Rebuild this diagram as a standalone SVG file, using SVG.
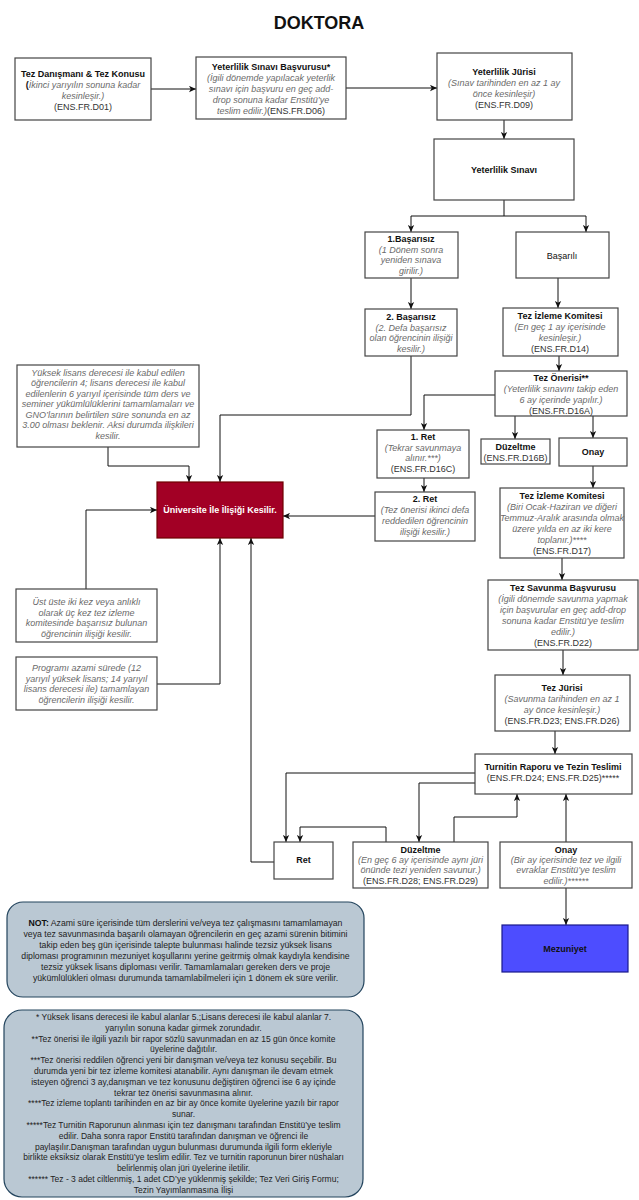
<svg xmlns="http://www.w3.org/2000/svg" width="639" height="1200" viewBox="0 0 639 1200">
<defs>
<marker id="arr" viewBox="0 0 10 10" refX="10" refY="5" markerWidth="7" markerHeight="7" orient="auto" markerUnits="userSpaceOnUse">
<path d="M0,0.5 L10,5 L0,9.5 L2.5,5 z" fill="#111"/>
</marker>
</defs>
<style>
text{font-family:"Liberation Sans",Arial,Helvetica,sans-serif;font-size:9px;text-anchor:middle;fill:#333}
.b{font-weight:bold;fill:#111}
.i{font-style:italic;fill:#6a6a6a}
.box{fill:#fff;stroke:#444;stroke-width:1.2}
.edges path{fill:none;stroke:#111;stroke-width:1;marker-end:url(#arr)}
.note{fill:#bac8d3;stroke:#23445d;stroke-width:1.2}
.nt{fill:#222}
</style>
<rect width="639" height="1200" fill="#fff"/>
<text x="319" y="29" class="b" style="font-size:18px">DOKTORA</text>

<g class="edges" id="connectors">
<path d="M151,89 H196"/>
<path d="M346,88 H437"/>
<path d="M504,120 V139"/>
<path d="M504,200 V216 H411 V232"/>
<path d="M504,216 H586 V232"/>
<path d="M411,278 V309"/>
<path d="M411,356 V415 H220 V482"/>
<path d="M558,278 V308"/>
<path d="M559,356 V371"/>
<path d="M495,395 H424 V430"/>
<path d="M515,416 V439"/>
<path d="M593,416 V438"/>
<path d="M424,478 V492"/>
<path d="M375,516 H283"/>
<path d="M593,466 V488"/>
<path d="M562,558 V580"/>
<path d="M563,650 V675"/>
<path d="M555,731 V754"/>
<path d="M475,773 H286 V842"/>
<path d="M475,783 H419 V842"/>
<path d="M386,842 V827 H300 V842"/>
<path d="M454,842 V817 H517 V794"/>
<path d="M566,842 V794"/>
<path d="M566,888 V925"/>
<path d="M274,862 H251 V538"/>
<path d="M108,447 V466 H189 V482"/>
<path d="M86,589 V510 H157"/>
<path d="M157,684 H220 V538"/>
</g>

<g id="n-danisman">
<rect class="box" x="15" y="58" width="136" height="62"/>
<text x="83" y="77" class="b">Tez Danışmanı &amp; Tez Konusu</text>
<text x="83" y="88"><tspan class="b">(</tspan><tspan class="i">İkinci yarıyılın sonuna kadar</tspan></text>
<text x="83" y="99" class="i">kesinleşir.)</text>
<text x="83" y="110">(ENS.FR.D01)</text>
</g>

<g id="n-basvuru">
<rect class="box" x="196" y="57" width="150" height="62"/>
<text x="271" y="70" class="b">Yeterlilik Sınavı Başvurusu*</text>
<text x="271" y="81" class="i">(İgili dönemde yapılacak yeterlik</text>
<text x="271" y="92" class="i">sınavı için başvuru en geç add-</text>
<text x="271" y="103" class="i">drop sonuna kadar Enstitü’ye</text>
<text x="271" y="114"><tspan class="i">teslim edilir.)</tspan><tspan>(ENS.FR.D06)</tspan></text>
</g>

<g id="n-juri">
<rect class="box" x="437" y="53" width="135" height="67"/>
<text x="504" y="75" class="b">Yeterlilik Jürisi</text>
<text x="504" y="86" class="i">(Sınav tarihinden en az 1 ay</text>
<text x="504" y="97" class="i">önce kesinleşir)</text>
<text x="504" y="108">(ENS.FR.D09)</text>
</g>

<g id="n-sinav">
<rect class="box" x="434" y="139" width="140" height="61"/>
<text x="504" y="173" class="b">Yeterlilik Sınavı</text>
</g>

<g id="n-basarisiz1">
<rect class="box" x="365" y="232" width="93" height="46"/>
<text x="411" y="242" class="b">1.Başarısız</text>
<text x="411" y="252.5" class="i">(1 Dönem sonra</text>
<text x="411" y="263" class="i">yeniden sınava</text>
<text x="411" y="273.5" class="i">girilir.)</text>
</g>

<g id="n-basarili">
<rect class="box" x="516" y="232" width="93" height="46"/>
<text x="562" y="259" style="fill:#111">Başarılı</text>
</g>

<g id="n-basarisiz2">
<rect class="box" x="365" y="309" width="92" height="47"/>
<text x="411" y="320" class="b">2. Başarısız</text>
<text x="411" y="330.5" class="i">(2. Defa başarısız</text>
<text x="411" y="341" class="i">olan öğrencinin ilişiği</text>
<text x="411" y="351.5" class="i">kesilir.)</text>
</g>

<g id="n-tik1">
<rect class="box" x="503" y="308" width="115" height="48"/>
<text x="560" y="319" class="b">Tez İzleme Komitesi</text>
<text x="560" y="330" class="i">(En geç 1 ay içerisinde</text>
<text x="560" y="341" class="i">kesinleşir.)</text>
<text x="560" y="352">(ENS.FR.D14)</text>
</g>

<g id="n-oneri">
<rect class="box" x="495" y="371" width="132" height="45"/>
<text x="561" y="381" class="b">Tez Önerisi**</text>
<text x="561" y="392" class="i">(Yeterlilik sınavını takip eden</text>
<text x="561" y="403" class="i">6 ay içerinde yapılır.)</text>
<text x="561" y="413.5">(ENS.FR.D16A)</text>
</g>

<g id="n-ret1">
<rect class="box" x="377" y="430" width="92" height="48"/>
<text x="423" y="440" class="b">1. Ret</text>
<text x="423" y="450.5" class="i">(Tekrar savunmaya</text>
<text x="423" y="461" class="i">alınır.***)</text>
<text x="423" y="472">(ENS.FR.D16C)</text>
</g>

<g id="n-duzeltme1">
<rect class="box" x="481" y="439" width="69" height="25"/>
<text x="515.5" y="450" class="b">Düzeltme</text>
<text x="515.5" y="461">(ENS.FR.D16B)</text>
</g>

<g id="n-onay1">
<rect class="box" x="559" y="438" width="68" height="28"/>
<text x="593" y="455" class="b">Onay</text>
</g>

<g id="n-ret2">
<rect class="box" x="375" y="492" width="100" height="49"/>
<text x="425" y="502" class="b">2. Ret</text>
<text x="425" y="513" class="i">(Tez önerisi ikinci defa</text>
<text x="425" y="524" class="i">reddedilen öğrencinin</text>
<text x="425" y="535" class="i">ilişiği kesilir.)</text>
</g>

<g id="n-tik2">
<rect class="box" x="500" y="488" width="124" height="70"/>
<text x="562" y="499" class="b">Tez İzleme Komitesi</text>
<text x="562" y="510" class="i">(Biri Ocak-Haziran ve diğeri</text>
<text x="562" y="521" class="i">Temmuz-Aralık arasında olmak</text>
<text x="562" y="532" class="i">üzere yılda en az iki kere</text>
<text x="562" y="543" class="i">toplanır.)****</text>
<text x="562" y="554">(ENS.FR.D17)</text>
</g>

<g id="n-savunma">
<rect class="box" x="488" y="580" width="150" height="70"/>
<text x="563" y="591" class="b">Tez Savunma Başvurusu</text>
<text x="563" y="602" class="i">(İgili dönemde savunma yapmak</text>
<text x="563" y="613" class="i">için başvurular en geç add-drop</text>
<text x="563" y="624" class="i">sonuna kadar Enstitü’ye teslim</text>
<text x="563" y="635" class="i">edilir.)</text>
<text x="563" y="646">(ENS.FR.D22)</text>
</g>

<g id="n-tezjuri">
<rect class="box" x="495" y="675" width="135" height="56"/>
<text x="562" y="691" class="b">Tez Jürisi</text>
<text x="562" y="702" class="i">(Savunma tarihinden en az 1</text>
<text x="562" y="713" class="i">ay önce kesinleşir.)</text>
<text x="562" y="724">(ENS.FR.D23; ENS.FR.D26)</text>
</g>

<g id="n-turnitin">
<rect class="box" x="475" y="754" width="157" height="40"/>
<text x="553" y="770" class="b">Turnitin Raporu ve Tezin Teslimi</text>
<text x="553" y="781">(ENS.FR.D24; ENS.FR.D25)*****</text>
</g>

<g id="n-ret3">
<rect class="box" x="274" y="842" width="59" height="37"/>
<text x="303.5" y="863" class="b">Ret</text>
</g>

<g id="n-duzeltme2">
<rect class="box" x="353" y="842" width="135" height="46"/>
<text x="420.5" y="852.5" class="b">Düzeltme</text>
<text x="420.5" y="863" class="i">(En geç 6 ay içerisinde aynı jüri</text>
<text x="420.5" y="873" class="i">önünde tezi yeniden savunur.)</text>
<text x="420.5" y="883.5">(ENS.FR.D28; ENS.FR.D29)</text>
</g>

<g id="n-onay2">
<rect class="box" x="500" y="842" width="132" height="46"/>
<text x="566" y="852.5" class="b">Onay</text>
<text x="566" y="863" class="i">(Bir ay içerisinde tez ve ilgili</text>
<text x="566" y="873" class="i">evraklar Enstitü’ye teslim</text>
<text x="566" y="883.5" class="i">edilir.)******</text>
</g>

<g id="n-mezuniyet">
<rect x="502" y="925" width="126" height="47" fill="#4d4dff" stroke="#1a1a8c" stroke-width="1.2"/>
<text x="565" y="952" class="b">Mezuniyet</text>
</g>

<g id="n-kesilir">
<rect x="157" y="482" width="126" height="56" fill="#a20025" stroke="#6f0000" stroke-width="1.2"/>
<text x="220" y="513" class="b" style="fill:#fff">Üniversite İle İlişiği Kesilir.</text>
</g>

<g id="n-yuksek">
<rect class="box" x="17" y="365" width="182" height="82"/>
<text x="108" y="375.5" class="i">Yüksek lisans derecesi ile kabul edilen</text>
<text x="108" y="386" class="i">öğrencilerin 4; lisans derecesi ile kabul</text>
<text x="108" y="396.5" class="i">edilenlerin 6 yarıyıl içerisinde tüm ders ve</text>
<text x="108" y="407" class="i">seminer yükümlülüklerini tamamlamaları ve</text>
<text x="108" y="417.5" class="i">GNO’larının belirtilen süre sonunda en az</text>
<text x="108" y="428" class="i">3.00 olması beklenir. Aksi durumda ilişkileri</text>
<text x="108" y="438.5" class="i">kesilir.</text>
</g>

<g id="n-ustuste">
<rect class="box" x="16" y="589" width="141" height="53"/>
<text x="86.5" y="605" class="i">Üst üste iki kez veya anlıklı</text>
<text x="86.5" y="615.5" class="i">olarak üç kez tez izleme</text>
<text x="86.5" y="626" class="i">komitesinde başarısız bulunan</text>
<text x="86.5" y="636.5" class="i">öğrencinin ilişiği kesilir.</text>
</g>

<g id="n-program">
<rect class="box" x="16" y="657" width="141" height="53"/>
<text x="86.5" y="671" class="i">Programı azami sürede (12</text>
<text x="86.5" y="681.5" class="i">yarıyıl yüksek lisans; 14 yarıyıl</text>
<text x="86.5" y="692" class="i">lisans derecesi ile) tamamlayan</text>
<text x="86.5" y="702.5" class="i">öğrencilerin ilişiği kesilir.</text>
</g>

<g id="n-not">
<rect class="note" x="7" y="902" width="357" height="95" rx="16"/>
<text x="185.5" y="926" class="nt" style="font-size:8.7px"><tspan class="b">NOT:</tspan> Azami süre içerisinde tüm derslerini ve/veya tez çalışmasını tamamlamayan</text>
<text x="185.5" y="937" class="nt" style="font-size:8.7px">veya tez savunmasında başarılı olamayan öğrencilerin en geç azami sürenin bitimini</text>
<text x="185.5" y="948" class="nt" style="font-size:8.7px">takip eden beş gün içerisinde talepte bulunması halinde tezsiz yüksek lisans</text>
<text x="185.5" y="959" class="nt" style="font-size:8.7px">diploması programının mezuniyet koşullarını yerine geitrmiş olmak kaydıyla kendisine</text>
<text x="185.5" y="970" class="nt" style="font-size:8.7px">tezsiz yüksek lisans diploması verilir. Tamamlamaları gereken ders ve proje</text>
<text x="185.5" y="981" class="nt" style="font-size:8.7px">yükümlülükleri olması durumunda tamamlabilmeleri için 1 dönem ek süre verilir.</text>
</g>

<g id="n-dipnot">
<rect class="note" x="4" y="1010" width="359" height="187" rx="18"/>
<text x="183.5" y="1020" class="nt" style="font-size:8.5px">* Yüksek lisans derecesi ile kabul alanlar 5.;Lisans derecesi ile kabul alanlar 7.</text>
<text x="183.5" y="1030.8" class="nt" style="font-size:8.5px">yarıyılın sonuna kadar girmek zorundadır.</text>
<text x="183.5" y="1041.6" class="nt" style="font-size:8.5px">**Tez önerisi ile ilgili yazılı bir rapor sözlü savunmadan en az 15 gün önce komite</text>
<text x="183.5" y="1052.4" class="nt" style="font-size:8.5px">üyelerine dağıtılır.</text>
<text x="183.5" y="1063.2" class="nt" style="font-size:8.5px">***Tez önerisi reddilen öğrenci yeni bir danışman ve/veya tez konusu seçebilir. Bu</text>
<text x="183.5" y="1074" class="nt" style="font-size:8.5px">durumda yeni bir tez izleme komitesi atanabilir. Aynı danışman ile devam etmek</text>
<text x="183.5" y="1084.8" class="nt" style="font-size:8.5px">isteyen öğrenci 3 ay,danışman ve tez konusunu değiştiren öğrenci ise 6 ay içinde</text>
<text x="183.5" y="1095.6" class="nt" style="font-size:8.5px">tekrar tez önerisi savunmasına alınır.</text>
<text x="183.5" y="1106.4" class="nt" style="font-size:8.5px">****Tez izleme toplantı tarihinden en az bir ay önce komite üyelerine yazılı bir rapor</text>
<text x="183.5" y="1117.2" class="nt" style="font-size:8.5px">sunar.</text>
<text x="183.5" y="1128" class="nt" style="font-size:8.5px">*****Tez Turnitin Raporunun alınması için tez danışmanı tarafından Enstitü’ye teslim</text>
<text x="183.5" y="1138.8" class="nt" style="font-size:8.5px">edilir. Daha sonra rapor Enstitü tarafından danışman ve öğrenci ile</text>
<text x="183.5" y="1149.6" class="nt" style="font-size:8.5px">paylaşılır.Danışman tarafından uygun bulunması durumunda ilgili form ekleriyle</text>
<text x="183.5" y="1160.4" class="nt" style="font-size:8.5px">birlikte eksiksiz olarak Enstitü’ye teslim edilir. Tez ve turnitin raporunun birer nüshaları</text>
<text x="183.5" y="1171.2" class="nt" style="font-size:8.5px">belirlenmiş olan jüri üyelerine iletilir.</text>
<text x="183.5" y="1182" class="nt" style="font-size:8.5px">****** Tez - 3 adet ciltlenmiş, 1 adet CD’ye yüklenmiş şekilde; Tez Veri Giriş Formu;</text>
<text x="183.5" y="1192.8" class="nt" style="font-size:8.5px">Tezin Yayımlanmasına İlişi</text>
</g>
</svg>
